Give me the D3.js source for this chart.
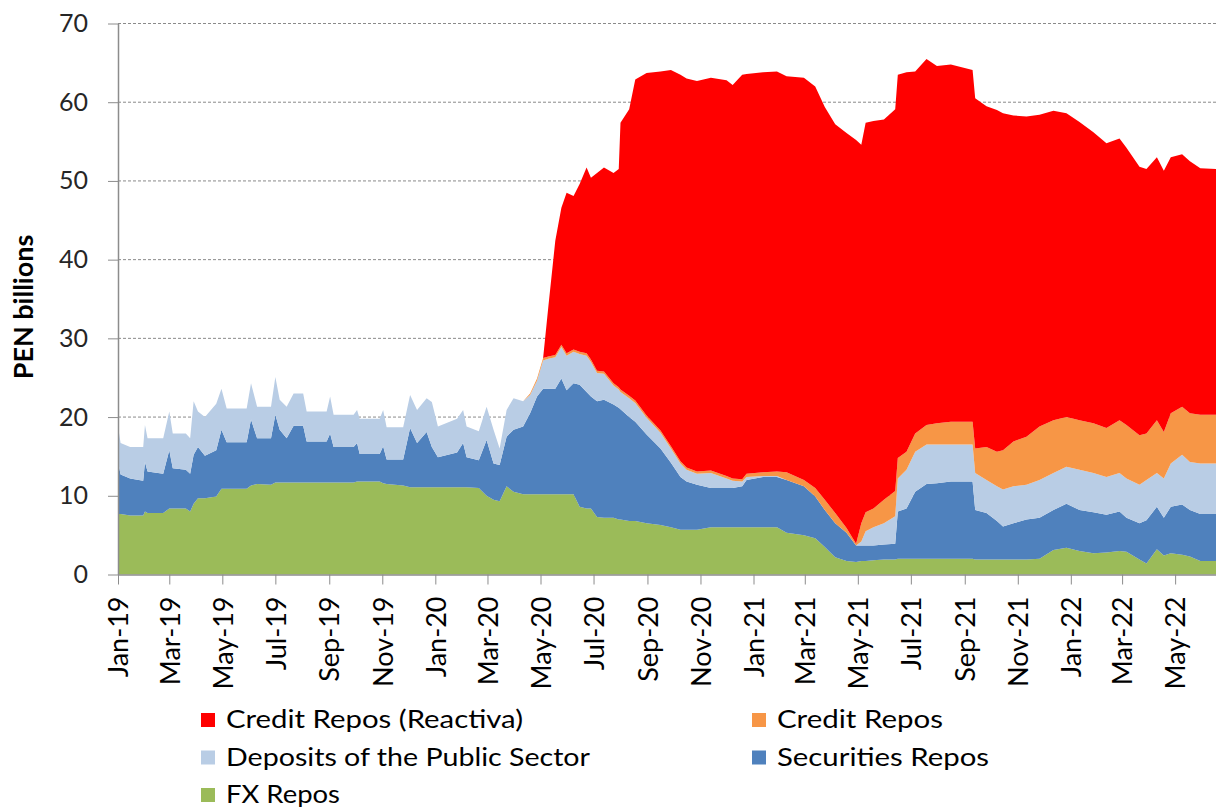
<!DOCTYPE html>
<html>
<head>
<meta charset="utf-8">
<script src="https://cdn.jsdelivr.net/npm/d3@7"></script>
<style>
  body { margin: 0; background: #fff; }
  svg { display: block; font-family: Lato, "Open Sans", sans-serif; }
</style>
</head>
<body>
<div id="chart"></div>
<script>
// ---- data (PEN billions) ----
const dates = [
  '2019-01-01','2019-01-04','2019-01-15','2019-01-30','2019-02-01','2019-02-04','2019-02-22','2019-03-01','2019-03-05','2019-03-20',
  '2019-03-25','2019-03-29','2019-04-03','2019-04-11','2019-04-24','2019-04-30','2019-05-06','2019-05-29','2019-06-03','2019-06-10',
  '2019-06-26','2019-07-01','2019-07-06','2019-07-14','2019-07-22','2019-08-02','2019-08-06','2019-08-29','2019-09-02','2019-09-06',
  '2019-09-29','2019-10-03','2019-10-06','2019-10-29','2019-11-02','2019-11-06','2019-11-25','2019-12-03','2019-12-11','2019-12-22',
  '2019-12-28','2020-01-04','2020-01-26','2020-02-02','2020-02-06','2020-02-20','2020-02-29','2020-03-08','2020-03-15','2020-03-23',
  '2020-03-31','2020-04-11','2020-04-19','2020-04-27','2020-05-04','2020-05-10','2020-05-18','2020-05-25','2020-05-31','2020-06-08',
  '2020-06-15','2020-06-23','2020-06-28','2020-07-05','2020-07-13','2020-07-24','2020-07-30','2020-08-01','2020-08-11','2020-08-18',
  '2020-08-31','2020-09-16','2020-09-28','2020-10-09','2020-10-16','2020-10-28','2020-11-13','2020-12-01','2020-12-08','2020-12-19',
  '2020-12-24','2021-01-12','2021-01-28','2021-02-08','2021-02-28','2021-03-13','2021-03-24','2021-04-05','2021-04-18','2021-04-29',
  '2021-05-05','2021-05-10','2021-05-19','2021-05-31','2021-06-13','2021-06-16','2021-06-26','2021-07-06','2021-07-19','2021-07-31',
  '2021-08-16','2021-09-10','2021-09-13','2021-09-26','2021-10-08','2021-10-15','2021-10-27','2021-11-11','2021-11-26','2021-12-12',
  '2021-12-27','2022-01-11','2022-01-27','2022-02-11','2022-02-26','2022-03-06','2022-03-21','2022-03-29','2022-04-10','2022-04-18',
  '2022-04-26','2022-05-09','2022-05-18','2022-05-30','2022-06-17'
];
const fxRepos = [
  7.7,7.7,7.5,7.5,8.0,7.8,7.8,8.4,8.4,8.4,
  8.0,9.0,9.7,9.7,9.9,10.9,10.9,10.9,11.3,11.5,
  11.4,11.7,11.7,11.7,11.7,11.7,11.7,11.7,11.7,11.7,
  11.7,11.8,11.8,11.8,11.6,11.5,11.3,11.1,11.1,11.1,
  11.1,11.1,11.1,11.1,11.1,11.0,10.0,9.5,9.3,11.2,
  10.5,10.2,10.2,10.2,10.2,10.2,10.2,10.2,10.2,10.2,
  8.6,8.4,8.4,7.3,7.2,7.2,7.0,7.0,6.8,6.8,
  6.5,6.3,6.0,5.7,5.7,5.7,6.0,6.0,6.0,6.0,
  6.0,6.0,6.0,5.3,5.0,4.6,3.5,2.2,1.7,1.6,
  1.7,1.7,1.8,1.9,1.9,2.0,2.0,2.0,2.0,2.0,
  2.0,2.0,1.9,1.9,1.9,1.9,1.9,1.9,2.0,3.1,
  3.4,3.0,2.7,2.8,3.0,2.9,1.9,1.4,3.2,2.4,
  2.7,2.5,2.3,1.7,1.7
];
const securitiesRepos = [
  6.6,5.0,4.7,4.4,6.3,5.3,5.0,7.4,5.1,4.9,
  4.8,6.2,6.5,5.4,5.9,7.5,5.9,5.9,8.4,5.8,
  5.9,8.6,6.7,5.6,7.2,7.2,5.2,5.2,6.2,4.5,
  4.5,4.9,3.5,3.5,4.7,3.1,3.3,7.5,5.6,7.0,
  5.1,3.8,4.4,5.6,3.8,3.5,7.1,4.6,4.6,6.3,
  7.9,8.6,10.3,12.4,13.4,13.4,13.4,14.7,13.2,14.1,
  15.5,14.8,14.2,14.7,15.0,14.4,14.2,14.0,13.2,12.6,
  11.3,9.7,8.2,6.7,6.1,5.7,5.0,5.0,5.0,5.2,
  6.0,6.4,6.4,6.7,6.2,5.3,4.7,4.3,3.6,2.1,
  2.0,2.0,1.9,1.9,2.0,6.0,6.4,8.5,9.5,9.6,
  9.8,9.8,6.3,5.9,4.9,4.2,4.6,5.1,5.2,5.1,
  5.6,5.2,5.2,4.8,5.0,4.3,4.6,5.5,5.4,4.8,
  5.9,6.4,5.9,6.0,6.0
];
const depositsPublicSector = [
  4.5,4.0,4.0,4.3,4.7,4.2,4.5,4.9,4.4,4.6,
  4.5,6.8,4.5,4.9,5.9,5.2,4.3,4.3,4.6,4.0,
  4.0,4.8,3.8,4.0,4.1,4.1,3.8,3.8,4.7,4.1,
  4.1,4.2,4.5,4.5,4.6,4.1,4.1,4.2,4.2,4.3,
  5.7,3.9,4.3,4.2,3.9,3.7,4.2,4.3,2.1,3.4,
  4.0,3.2,2.3,2.0,3.6,3.8,4.0,4.0,4.4,4.0,
  3.9,4.6,4.4,3.6,3.3,2.4,2.3,2.2,2.4,2.4,
  2.1,2.0,1.8,1.7,1.5,1.4,1.9,1.2,0.9,0.6,
  0.4,0.1,0.1,0.0,0.0,0.0,0.0,0.0,0.0,0.0,
  0.5,1.8,2.3,2.7,3.5,4.2,4.9,5.1,5.0,4.9,
  4.7,4.7,4.7,4.2,4.4,4.7,4.7,4.4,4.8,4.7,
  4.7,5.1,5.0,4.8,4.9,5.0,4.9,5.1,4.3,5.0,
  5.5,6.3,6.1,6.4,6.4
];
const creditRepos = [
  0,0,0,0,0,0,0,0,0,0,
  0,0,0,0,0,0,0,0,0,0,
  0,0,0,0,0,0,0,0,0,0,
  0,0,0,0,0,0,0,0,0,0,
  0,0,0,0,0,0,0,0,0,0,
  0,0,0.2,0.3,0.3,0.3,0.3,0.3,0.3,0.3,
  0.3,0.3,0.3,0.3,0.3,0.3,0.3,0.3,0.3,0.3,
  0.3,0.3,0.3,0.3,0.3,0.3,0.3,0.3,0.3,0.3,
  0.4,0.5,0.6,1.0,0.8,1.1,1.3,1.3,0.6,0.2,
  2.3,2.4,2.4,3.0,3.2,2.6,2.3,2.3,2.5,2.7,
  2.9,2.9,3.1,4.2,4.4,5.0,5.7,6.1,6.8,6.7,
  6.3,6.3,6.3,6.2,6.7,6.8,6.3,5.9,6.7,5.9,
  6.4,6.1,6.2,6.2,6.2
];
const creditReposReactiva = [
  0,0,0,0,0,0,0,0,0,0,
  0,0,0,0,0,0,0,0,0,0,
  0,0,0,0,0,0,0,0,0,0,
  0,0,0,0,0,0,0,0,0,0,
  0,0,0,0,0,0,0,0,0,0,
  0,0,0,0,0,6.3,14.5,17.4,20.4,19.5,
  21.3,23.6,23.1,25.1,25.9,26.7,27.7,33.9,36.4,40.8,
  43.5,45.6,47.8,49.1,49.4,49.6,49.9,50.3,50.0,51.4,
  50.8,50.8,50.8,50.3,51.1,51.0,49.9,49.4,50.2,51.3,
  48.1,49.5,49.2,48.3,48.5,48.7,48.2,46.0,46.5,45.4,
  45.4,44.7,44.5,43.3,43.4,42.8,41.4,40.7,39.6,39.3,
  38.6,37.9,37.0,36.2,35.8,35.2,34.1,33.6,33.4,33.2,
  32.5,32.1,32.0,31.3,31.2
];

// stacking order, bottom to top
const seriesKeys = ['fx', 'sec', 'dep', 'cred', 'reac'];
const seriesNames = {
  reac: 'Credit Repos (Reactiva)',
  cred: 'Credit Repos',
  dep: 'Deposits of the Public Sector',
  sec: 'Securities Repos',
  fx: 'FX Repos'
};
const seriesColors = {
  reac: '#ff0000',
  cred: '#f79646',
  dep: '#b9cde5',
  sec: '#4f81bd',
  fx: '#9bbb59'
};
const legendOrder = [['reac', 'cred'], ['dep', 'sec'], ['fx']];
const yTicks = [0, 10, 20, 30, 40, 50, 60, 70];
const xStart = '2019-01-01', xEnd = '2022-06-17';
const yTitle = 'PEN billions';

// ---- layout ----
const width = 1216, height = 809;
const plot = { left: 118, right: 1216, top: 23.5, bottom: 574.5 };
const parse = d3.timeParse('%Y-%m-%d');

const table = dates.map((d, i) => ({
  date: parse(d),
  fx: fxRepos[i],
  sec: securitiesRepos[i],
  dep: depositsPublicSector[i],
  cred: creditRepos[i],
  reac: creditReposReactiva[i]
}));

const x = d3.scaleTime([parse(xStart), parse(xEnd)], [plot.left, plot.right]);
const y = d3.scaleLinear([0, 70], [plot.bottom, plot.top]);

const svg = d3.select('#chart').append('svg')
  .attr('width', width)
  .attr('height', height);

// dashed gridlines (behind the areas)
svg.append('g')
  .selectAll('line')
  .data(yTicks.filter(t => t > 0))
  .join('line')
  .attr('x1', plot.left).attr('x2', plot.right)
  .attr('y1', d => y(d)).attr('y2', d => y(d))
  .attr('stroke', '#8a8a8a')
  .attr('stroke-width', 1)
  .attr('stroke-dasharray', '3,2');

// stacked areas
const stack = d3.stack().keys(seriesKeys);
const area = d3.area()
  .x(d => x(d.data.date))
  .y0(d => y(d[0]))
  .y1(d => y(d[1]));

svg.append('g')
  .selectAll('path')
  .data(stack(table))
  .join('path')
  .attr('fill', d => seriesColors[d.key])
  .attr('d', area);

// y axis
const axisY = svg.append('g')
  .attr('transform', `translate(${plot.left},0)`)
  .call(d3.axisLeft(y).tickValues(yTicks).tickSize(10).tickSizeOuter(0).tickPadding(20));
axisY.select('.domain').attr('stroke', '#8c8c8c').attr('stroke-width', 1.5);
axisY.selectAll('.tick line').attr('stroke', '#8c8c8c');
axisY.selectAll('.tick text')
  .attr('font-family', 'Lato, sans-serif')
  .attr('font-size', 25)
  .attr('fill', '#262626');

// x axis: every second month
const monthTicks = d3.timeMonth.every(2).range(parse(xStart), parse(xEnd));
const axisX = svg.append('g')
  .attr('transform', `translate(0,${plot.bottom})`)
  .call(d3.axisBottom(x).tickValues(monthTicks).tickSize(10).tickSizeOuter(0)
    .tickFormat(d3.timeFormat('%b-%y')));
axisX.select('.domain').attr('stroke', '#8c8c8c').attr('stroke-width', 1.5);
axisX.selectAll('.tick line').attr('stroke', '#8c8c8c');
axisX.selectAll('.tick text')
  .attr('transform', 'rotate(-90)')
  .attr('text-anchor', 'end')
  .attr('x', -22)
  .attr('y', 0)
  .attr('dy', '0.36em')
  .attr('font-family', 'Lato, sans-serif')
  .attr('font-size', 27)
  .attr('fill', '#000');

// y axis title
svg.append('text')
  .attr('transform', 'translate(22,307) rotate(-90)')
  .attr('text-anchor', 'middle')
  .attr('dominant-baseline', 'central')
  .attr('font-weight', 'bold')
  .attr('font-size', 27)
  .attr('fill', '#000')
  .text(yTitle);

// legend (text widths fitted to the reference's wider face)
const legendCols = [201, 752], legendRows = [728, 765.5, 803];
const legendWidths = { reac: 297, cred: 166, dep: 364, sec: 212, fx: 114 };
const legend = svg.append('g');
legendOrder.forEach((row, r) => {
  row.forEach((key, c) => {
    const g = legend.append('g')
      .attr('transform', `translate(${legendCols[c]},${legendRows[r]})`);
    g.append('rect')
      .attr('x', 0).attr('y', -15)
      .attr('width', 14).attr('height', 14)
      .attr('fill', seriesColors[key]);
    g.append('text')
      .attr('x', 25).attr('y', 0)
      .attr('font-size', 25)
      .attr('fill', '#000')
      .attr('textLength', legendWidths[key])
      .attr('lengthAdjust', 'spacingAndGlyphs')
      .text(seriesNames[key]);
  });
});
</script>
</body>
</html>
